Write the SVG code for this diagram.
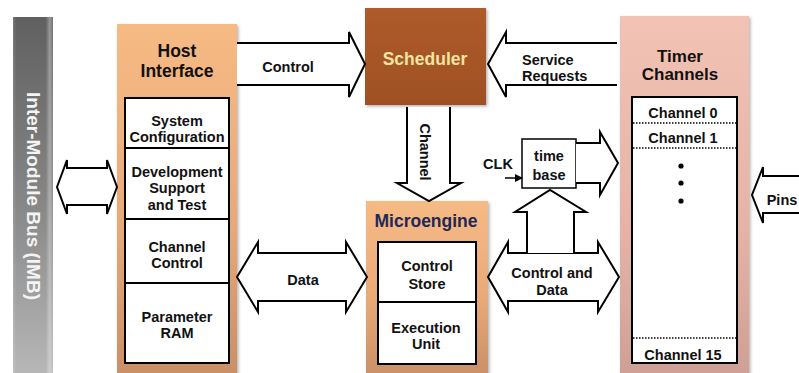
<svg xmlns="http://www.w3.org/2000/svg" width="799" height="373" viewBox="0 0 799 373">
  <defs>
    <linearGradient id="gBus" x1="0" y1="0" x2="0" y2="1">
      <stop offset="0" stop-color="#606060"/>
      <stop offset="0.5" stop-color="#858585"/>
      <stop offset="1" stop-color="#b8b8b8"/>
    </linearGradient>
    <linearGradient id="gBusEdge" x1="0" y1="0" x2="1" y2="0">
      <stop offset="0" stop-color="#ffffff" stop-opacity="0.15"/>
      <stop offset="0.08" stop-color="#ffffff" stop-opacity="0"/>
      <stop offset="0.82" stop-color="#ffffff" stop-opacity="0"/>
      <stop offset="0.92" stop-color="#ffffff" stop-opacity="0.35"/>
      <stop offset="1" stop-color="#ffffff" stop-opacity="0.1"/>
    </linearGradient>
    <linearGradient id="gOrange" x1="0" y1="0" x2="0" y2="1">
      <stop offset="0" stop-color="#f6ba85"/>
      <stop offset="0.55" stop-color="#eaaa78"/>
      <stop offset="1" stop-color="#c98f66"/>
    </linearGradient>
    <linearGradient id="gPink" x1="0" y1="0" x2="0" y2="1">
      <stop offset="0" stop-color="#f2c3b5"/>
      <stop offset="0.6" stop-color="#e6b2a6"/>
      <stop offset="1" stop-color="#cf9f95"/>
    </linearGradient>
    <linearGradient id="gBrown" x1="0" y1="0" x2="0" y2="1">
      <stop offset="0" stop-color="#ad5b2c"/>
      <stop offset="1" stop-color="#9f5024"/>
    </linearGradient>
    <filter id="shadow" x="-10%" y="-10%" width="120%" height="120%">
      <feDropShadow dx="1.5" dy="1.5" stdDeviation="1.5" flood-color="#000" flood-opacity="0.3"/>
    </filter>
    <marker id="tip" viewBox="0 0 8 8" refX="7" refY="4" markerWidth="8" markerHeight="8" markerUnits="userSpaceOnUse" orient="auto">
      <path d="M0,0 L8,4 L0,8 Z" fill="#000"/>
    </marker>
  </defs>
  <style>
    text { font-family: "Liberation Sans", Arial, sans-serif; font-weight: bold; fill: #111; text-anchor: middle; }
    .t { font-size: 14.5px; }
    .h { font-size: 17.5px; }
    .inner { fill: #fff; stroke: #000; stroke-width: 2; }
    .div { stroke: #000; stroke-width: 2; fill: none; }
    .dot { stroke: #000; stroke-width: 1.5; stroke-dasharray: 1.5 1.5; fill: none; }
    .arrow { fill: #fff; stroke: #000; stroke-width: 2; stroke-linejoin: miter; }
  </style>

  <!-- inter-module bus -->
  <g id="imb">
    <rect x="13" y="17" width="40" height="360" fill="url(#gBus)"/>
    <rect x="13" y="17" width="40" height="360" fill="url(#gBusEdge)"/>
    <text class="h" transform="translate(33,196) rotate(90)" y="6.5" style="font-size:19px;fill:#f4f4f4">Inter-Module Bus (IMB)</text>
  </g>

  <!-- host interface -->
  <g id="host-interface">
    <rect x="117" y="24" width="120" height="352" fill="url(#gOrange)" filter="url(#shadow)"/>
    <text class="h" x="177" y="57">Host</text>
    <text class="h" x="177" y="77">Interface</text>
    <rect class="inner" x="125" y="98" width="104" height="265"/>
    <line class="div" x1="125" y1="148" x2="229" y2="148"/>
    <line class="div" x1="125" y1="219" x2="229" y2="219"/>
    <line class="div" x1="125" y1="283" x2="229" y2="283"/>
    <text class="t" x="177" y="126">System</text>
    <text class="t" x="177" y="142">Configuration</text>
    <text class="t" x="177" y="177">Development</text>
    <text class="t" x="177" y="193">Support</text>
    <text class="t" x="177" y="210">and Test</text>
    <text class="t" x="177" y="252">Channel</text>
    <text class="t" x="177" y="268">Control</text>
    <text class="t" x="177" y="322">Parameter</text>
    <text class="t" x="177" y="338">RAM</text>
  </g>

  <!-- scheduler -->
  <g id="scheduler">
    <rect x="365" y="8" width="121" height="97" fill="url(#gBrown)" filter="url(#shadow)"/>
    <text class="h" x="425" y="64.5" style="fill:#f3e3a2">Scheduler</text>
  </g>

  <!-- microengine -->
  <g id="microengine">
    <rect x="366" y="201" width="122" height="175" fill="url(#gOrange)" filter="url(#shadow)"/>
    <text class="h" x="426" y="227" style="fill:#1f2857">Microengine</text>
    <rect class="inner" x="378" y="242" width="98" height="122"/>
    <line class="div" x1="378" y1="302" x2="476" y2="302"/>
    <text class="t" x="427" y="271">Control</text>
    <text class="t" x="427" y="289">Store</text>
    <text class="t" x="426" y="333">Execution</text>
    <text class="t" x="426" y="349">Unit</text>
  </g>

  <!-- time base -->
  <g id="time-base">
    <rect x="522" y="139" width="54" height="49" fill="#fff" stroke="#000" stroke-width="1.5"/>
    <text class="t" x="549" y="161">time</text>
    <text class="t" x="549" y="180">base</text>
  </g>

  <!-- timer channels -->
  <g id="timer-channels">
    <rect x="620" y="16" width="129" height="360" fill="url(#gPink)" filter="url(#shadow)"/>
    <text class="h" x="680" y="62" style="font-size:17px">Timer</text>
    <text class="h" x="680" y="80" style="font-size:17px">Channels</text>
    <rect class="inner" x="632" y="97" width="105" height="266"/>
    <line class="dot" x1="633" y1="123" x2="736" y2="123"/>
    <line class="dot" x1="633" y1="148" x2="736" y2="148"/>
    <line class="dot" x1="633" y1="338" x2="736" y2="338"/>
    <text class="t" x="683" y="118">Channel 0</text>
    <text class="t" x="683" y="143">Channel 1</text>
    <circle cx="681" cy="166" r="2.6" fill="#000"/>
    <circle cx="681" cy="183" r="2.6" fill="#000"/>
    <circle cx="681" cy="201" r="2.6" fill="#000"/>
    <text class="t" x="683" y="360">Channel 15</text>
  </g>

  <!-- connectors -->
  <g id="connectors">
    <!-- IMB <-> host interface -->
    <path class="arrow" d="M57,187 L67,160 V168 H107 V160 L117,187 L107,214 V205 H67 V214 Z"/>
    <!-- control: host -> scheduler -->
    <path class="arrow" d="M237,43 H349 V32 L365,64 L349,97 V85 H237"/>
    <text class="t" x="288" y="72">Control</text>
    <!-- service requests: timer channels -> scheduler -->
    <path class="arrow" d="M617,43 H506 V32 L488,64 L506,97 V85 H617"/>
    <text class="t" x="522" y="65" style="text-anchor:start">Service</text>
    <text class="t" x="522" y="81" style="text-anchor:start">Requests</text>
    <!-- channel: scheduler -> microengine -->
    <path class="arrow" d="M407,107 V183 H397 L429,201 L461,183 H450 V107"/>
    <text class="t" transform="translate(425,152) rotate(90)" y="5">Channel</text>
    <!-- data: host <-> microengine -->
    <path class="arrow" d="M237,277 L258,242 V253 H346 V242 L367,277 L346,312 V301 H258 V312 Z"/>
    <text class="t" x="303" y="285">Data</text>
    <!-- control and data: microengine <-> timer channels -->
    <path class="arrow" d="M488,277 L508,242 V253 H598 V242 L619,277 L598,312 V301 H508 V312 Z"/>
    <path class="arrow" d="M527,253 V212 H515 L550,190 L586,212 H574 V253"/>
    <text class="t" x="552" y="278">Control and</text>
    <text class="t" x="552" y="295">Data</text>
    <!-- time base -> timer channels -->
    <path class="arrow" d="M576,143 H600 V132 L618,163 L600,195 V183 H576"/>
    <!-- clock input -->
    <line x1="505" y1="178" x2="522" y2="178" stroke="#000" stroke-width="1.5" marker-end="url(#tip)"/>
    <text class="t" x="498" y="169">CLK</text>
    <!-- pins -> timer channels -->
    <path class="arrow" d="M800,176 H763 V167 L752,195 L763,223 V213 H800"/>
    <text class="t" x="782" y="205">Pins</text>
  </g>
</svg>
